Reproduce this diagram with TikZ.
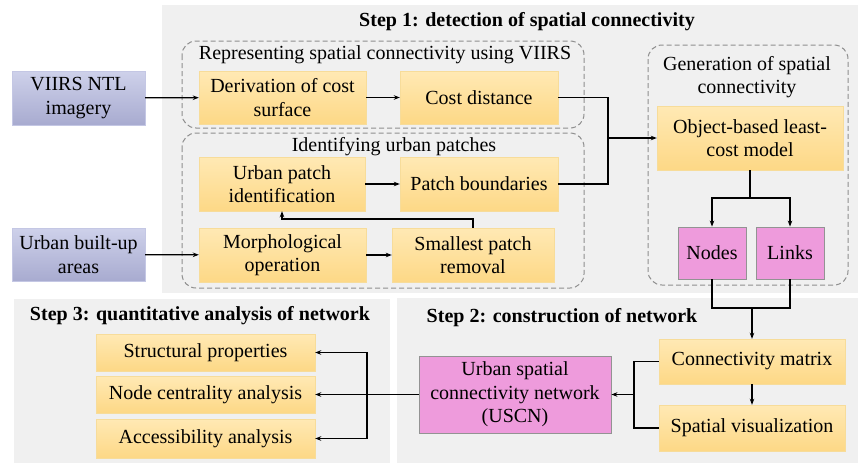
\documentclass[tikz,border=0pt]{standalone}
\usepackage{fontspec}
\setmainfont{Liberation Serif}
\usepackage{tikz}
\usetikzlibrary{arrows.meta}
\definecolor{panelgray}{HTML}{F0F0F0}
\definecolor{yeltop}{HTML}{FFE9B4}
\definecolor{yelbot}{HTML}{FDD886}
\definecolor{yeledge}{HTML}{F7DC9A}
\definecolor{blutop}{HTML}{CED1EA}
\definecolor{blubot}{HTML}{A8ABD0}
\definecolor{bluedge}{HTML}{C4C7E4}
\definecolor{magfill}{HTML}{EE9BDC}
\definecolor{dashgray}{HTML}{8E8E8E}
\tikzset{
  panel/.style={fill=panelgray,draw=none},
  group/.style={draw=dashgray,line width=1pt,dash pattern=on 5pt off 3pt,rounded corners=14pt},
  proc/.style={top color=yeltop,bottom color=yelbot,draw=yeledge,align=center,inner sep=0pt},
  src/.style={top color=blutop,bottom color=blubot,draw=bluedge,align=center,inner sep=0pt},
  net/.style={fill=magfill,draw=gray!85,line width=0.8pt,align=center,inner sep=0pt},
  head/.style={font=\fontsize{20}{23.5}\selectfont\bfseries},
  arr/.style={-{Stealth[length=6pt,width=4.5pt]},line width=1.3pt},
  ln/.style={line width=1.3pt}
}
\begin{document}
\begin{tikzpicture}[x=1pt,y=-1pt,font=\fontsize{20}{23.5}\selectfont]
\useasboundingbox (0,0) rectangle (858,463);
\fill[white] (0,0) rectangle (858,463);
\fill[panel] (162,5) rectangle (858,293);
\fill[panel] (397,298) rectangle (858,463);
\fill[panel] (14,299) rectangle (390,463);
\node[head] (step1) at (527,22) {Step 1: detection of spatial connectivity};
\node[head] (step2) at (562,318) {Step 2: construction of network};
\node[head] (step3) at (200,316) {Step 3: quantitative analysis of network};
\draw[group] (182,41) rectangle (584,128);
\draw[group] (182,133) rectangle (584,288);
\draw[group] (648,45) rectangle (848,285);
\node (grpA) at (385,55) {Representing spatial connectivity using VIIRS};
\node (grpB) at (394,147) {Identifying urban patches};
\node[align=center] (grpC) at (747,77) {Generation of spatial\\connectivity};
\node[src,minimum width=133,minimum height=54] (viirs) at (78.5,98) {VIIRS NTL\\imagery};
\node[src,minimum width=133,minimum height=53] (builtup) at (78.5,254.5) {Urban built-up\\areas};
\node[proc,minimum width=167,minimum height=53] (deriv) at (282.5,97.5) {Derivation of cost\\surface};
\node[proc,minimum width=158,minimum height=53] (costd) at (479,97.5) {Cost distance};
\node[proc,minimum width=166,minimum height=54] (upid) at (282,184) {Urban patch\\identification};
\node[proc,minimum width=158,minimum height=54] (pbound) at (479,184) {Patch boundaries};
\node[proc,minimum width=167,minimum height=54] (morph) at (282.5,255) {Morphological\\operation};
\node[proc,minimum width=162,minimum height=54] (smallest) at (473,255) {Smallest patch\\removal};
\node[proc,minimum width=186,minimum height=64] (lcm) at (750,138) {Object-based least-\\cost model};
\node[net,minimum width=68,minimum height=52] (nodes) at (712,253) {Nodes};
\node[net,minimum width=68,minimum height=52] (links) at (790,253) {Links};
\node[proc,minimum width=186,minimum height=45] (cmat) at (752,361.5) {Connectivity matrix};
\node[proc,minimum width=186,minimum height=46] (svis) at (752,428) {Spatial visualization};
\node[net,minimum width=192,minimum height=77] (uscn) at (515,394.5) {Urban spatial\\connectivity network\\(USCN)};
\node[proc,minimum width=219,minimum height=37] (struct) at (205.5,352.5) {Structural properties};
\node[proc,minimum width=219,minimum height=37] (nodec) at (205.5,394.5) {Node centrality analysis};
\node[proc,minimum width=219,minimum height=39] (access) at (205.5,438.5) {Accessibility analysis};
\coordinate (j1) at (608,138);
\coordinate (fb) at (282,219);
\coordinate (split) at (750,198);
\coordinate (merge) at (752,308);
\coordinate (j2) at (634,394.5);
\coordinate (j3) at (367,394.5);
\draw[arr] (viirs) -- (deriv);
\draw[arr] (deriv) -- (costd);
\draw[arr] (upid) -- (pbound);
\draw[arr] (builtup) -- (morph);
\draw[arr] (morph) -- (smallest);
\draw[arr] (smallest.north) |- (fb) -- (upid.south);
\draw[ln] (costd.east) -| (j1);
\draw[ln] (pbound.east) -| (j1);
\draw[arr] (j1) -- (lcm.west);
\draw[ln] (lcm.south) -- (split);
\draw[arr] (split) -| (nodes.north);
\draw[arr] (split) -| (links.north);
\draw[ln] (nodes.south) |- (merge);
\draw[ln] (links.south) |- (merge);
\draw[arr] (merge) -- (cmat.north);
\draw[arr] (cmat) -- (svis);
\draw[ln] (cmat.west) -| (j2);
\draw[ln] (svis.west) -| (j2);
\draw[arr] (j2) -- (uscn.east);
\draw[arr] (uscn.west) -- (nodec.east);
\draw[arr] (j3) |- (struct.east);
\draw[arr] (j3) |- (access.east);
\end{tikzpicture}
\end{document}
